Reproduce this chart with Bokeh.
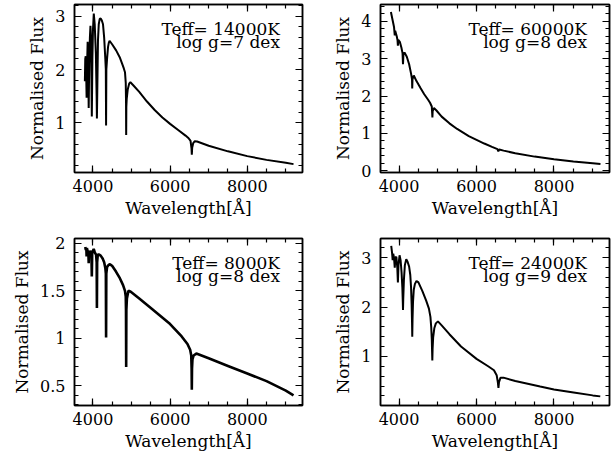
import numpy as np
from bokeh.plotting import figure
from bokeh.models import FixedTicker, LinearAxis, Range1d, Label
from bokeh.layouts import column, row
from bokeh.embed import file_html
from bokeh.resources import INLINE

# ---------------- data ----------------
wl_14000 = [3790, 3800, 3812, 3822, 3835, 3848, 3862, 3875, 3889, 3902, 3920, 3935, 3950,
            3970, 3985, 4000, 4021, 4045, 4075, 4095, 4102, 4112, 4130, 4150, 4175, 4200,
            4230, 4260, 4290, 4320, 4333, 4340, 4347, 4365, 4390, 4410, 4430, 4500, 4600,
            4700, 4760, 4800, 4830, 4850, 4857, 4861, 4865, 4875, 4900, 4940, 4970, 5050,
            5200, 5400, 5600, 5800, 6000, 6200, 6400, 6480, 6530, 6555, 6563, 6572, 6600,
            6640, 6700, 7000, 7500, 8000, 8500, 9000, 9200]
flux_14000 = [1.78, 2.20, 2.25, 2.00, 1.47, 2.10, 2.52, 2.20, 1.28, 2.10, 2.60, 2.82, 2.55,
              1.12, 2.20, 2.75, 3.05, 2.85, 2.30, 1.50, 1.08, 1.60, 2.55, 2.85, 2.95, 2.96,
              2.92, 2.85, 2.60, 2.20, 2.00, 0.95, 2.00, 2.20, 2.42, 2.50, 2.54, 2.47, 2.36,
              2.22, 2.10, 2.02, 1.95, 1.75, 1.40, 0.77, 1.30, 1.45, 1.62, 1.74, 1.76, 1.70,
              1.58, 1.40, 1.24, 1.10, 0.98, 0.87, 0.76, 0.71, 0.66, 0.52, 0.40, 0.53, 0.62,
              0.655, 0.65, 0.57, 0.465, 0.375, 0.305, 0.25, 0.225]

wl_60000 = [3790, 3830, 3870, 3889, 3900, 3940, 3960, 3970, 3980, 4020, 4060, 4090, 4102,
            4112, 4140, 4200, 4260, 4310, 4335, 4340, 4347, 4380, 4450, 4550, 4650, 4750,
            4800, 4845, 4855, 4861, 4868, 4900, 4960, 5100, 5300, 5500, 5800, 6000, 6200,
            6400, 6540, 6563, 6585, 6700, 7000, 7500, 8000, 8500, 9000, 9200]
flux_60000 = [4.25, 4.05, 3.85, 3.62, 3.75, 3.60, 3.50, 3.35, 3.50, 3.45, 3.30, 3.15, 2.85,
              3.10, 3.17, 3.05, 2.85, 2.60, 2.45, 2.20, 2.45, 2.55, 2.40, 2.22, 2.05, 1.90,
              1.82, 1.72, 1.55, 1.43, 1.60, 1.68, 1.62, 1.45, 1.27, 1.12, 0.93, 0.83, 0.73,
              0.64, 0.58, 0.52, 0.57, 0.54, 0.47, 0.38, 0.31, 0.25, 0.20, 0.18]

wl_8000 = [3800, 3815, 3828, 3835, 3842, 3860, 3880, 3889, 3898, 3915, 3940, 3960, 3970,
           3980, 4000, 4020, 4050, 4080, 4096, 4102, 4108, 4125, 4160, 4200, 4250, 4290,
           4320, 4334, 4340, 4346, 4365, 4400, 4440, 4500, 4600, 4700, 4780, 4830, 4850,
           4856, 4861, 4866, 4880, 4920, 4980, 5200, 5500, 6000, 6300, 6450, 6520, 6548,
           6558, 6563, 6568, 6580, 6610, 6680, 7000, 7500, 8000, 8500, 9000, 9200]
flux_8000 = [1.96, 1.93, 1.95, 1.86, 1.95, 1.92, 1.91, 1.79, 1.92, 1.90, 1.92, 1.88, 1.65,
             1.90, 1.92, 1.94, 1.90, 1.88, 1.80, 1.32, 1.80, 1.88, 1.88, 1.87, 1.84, 1.80,
             1.74, 1.68, 1.01, 1.68, 1.75, 1.77, 1.78, 1.76, 1.70, 1.63, 1.56, 1.50, 1.44,
             1.30, 0.70, 1.30, 1.42, 1.50, 1.49, 1.42, 1.32, 1.15, 1.02, 0.94, 0.88, 0.82,
             0.68, 0.46, 0.68, 0.78, 0.82, 0.84, 0.79, 0.71, 0.63, 0.55, 0.45, 0.40]

wl_24000 = [3798, 3820, 3835, 3850, 3870, 3889, 3905, 3930, 3955, 3970, 3985, 4013, 4040,
            4065, 4085, 4097, 4102, 4108, 4125, 4150, 4186, 4220, 4260, 4290, 4310, 4325,
            4335, 4341, 4348, 4360, 4380, 4410, 4450, 4500, 4600, 4700, 4771, 4810, 4830,
            4845, 4853, 4859, 4866, 4880, 4910, 4950, 5004, 5100, 5300, 5600, 6000, 6300,
            6450, 6520, 6550, 6566, 6580, 6620, 6695, 7000, 7643, 8000, 8506, 9000, 9195]
flux_24000 = [3.24, 3.10, 2.95, 3.08, 3.00, 2.80, 3.00, 3.02, 2.80, 2.50, 2.85, 3.05, 2.95,
              2.70, 2.40, 2.10, 1.94, 2.15, 2.55, 2.85, 2.97, 2.92, 2.82, 2.65, 2.40, 2.05,
              1.70, 1.40, 1.75, 2.10, 2.35, 2.47, 2.53, 2.50, 2.33, 2.13, 1.97, 1.80, 1.60,
              1.35, 1.10, 0.92, 1.15, 1.38, 1.57, 1.67, 1.71, 1.63, 1.45, 1.20, 0.95, 0.80,
              0.72, 0.62, 0.48, 0.36, 0.48, 0.57, 0.57, 0.50, 0.39, 0.33, 0.27, 0.21, 0.19]

teff_labels = ["Teff= 14000K", "Teff= 60000K", "Teff= 8000K", "Teff= 24000K"]
logg_labels = ["log g=7 dex", "log g=8 dex", "log g=8 dex", "log g=9 dex"]
x_major_ticks = [4000, 6000, 8000]
x_label = "Wavelength[Å]"
y_label = "Normalised Flux"

# ---------------- styling / layout ----------------
FONT = "DejaVu Serif"
X_RANGE = (3521, 9433)


def make_panel(wl, flux, y_range, y_major, y_minor, teff, logg, width, height,
               b_left, b_right, b_top, b_bottom, lw=2.0):
    p = figure(width=width, height=height, x_range=Range1d(*X_RANGE),
               y_range=Range1d(*y_range), output_backend="svg", toolbar_location=None,
               min_border_left=b_left, min_border_right=b_right,
               min_border_top=b_top, min_border_bottom=b_bottom,
               background_fill_color="white", border_fill_color="white")
    p.grid.visible = False
    p.outline_line_color = "black"
    p.outline_line_width = 1.5

    x_minor = list(np.arange(3500, 9501, 500))
    xt = FixedTicker(ticks=x_major_ticks, minor_ticks=x_minor)
    yt = FixedTicker(ticks=y_major, minor_ticks=y_minor)

    for ax in p.xaxis:
        ax.ticker = xt
    for ax in p.yaxis:
        ax.ticker = yt

    top_ax = LinearAxis(ticker=xt, major_label_overrides={t: "" for t in x_major_ticks})
    right_ax = LinearAxis(ticker=yt, major_label_overrides={t: "" for t in y_major})
    p.add_layout(top_ax, "above")
    p.add_layout(right_ax, "right")

    for ax in p.axis:
        ax.major_tick_in = 7
        ax.major_tick_out = 0
        ax.minor_tick_in = 4
        ax.minor_tick_out = 0
        ax.major_tick_line_color = "black"
        ax.minor_tick_line_color = "black"
        ax.major_tick_line_width = 1.2
        ax.minor_tick_line_width = 1.2
        ax.axis_line_color = "black"
        ax.axis_line_width = 1.5
        ax.major_label_text_font = FONT
        ax.major_label_text_color = "black"
        ax.axis_label_text_font = FONT
        ax.axis_label_text_font_style = "normal"
        ax.axis_label_text_color = "black"
        ax.axis_label_text_font_size = "17px"

    for ax in (top_ax, right_ax):
        ax.major_label_standoff = 0
        ax.major_label_text_font_size = "1px"

    p.below[0].axis_label = x_label
    p.below[0].major_label_text_font_size = "16px"
    p.below[0].major_label_standoff = 7
    p.below[0].axis_label_standoff = 3

    p.left[0].axis_label = y_label
    p.left[0].major_label_text_font_size = "16px"
    p.left[0].major_label_standoff = 9
    p.left[0].axis_label_standoff = 5

    p.line(wl, flux, line_color="black", line_width=lw)

    # annotation text, placed relative to the frame
    frame_w = width - b_left - b_right
    frame_h = height - b_top - b_bottom
    x0, x1 = X_RANGE
    y0, y1 = y_range
    tx = x1 - 22.5 / frame_w * (x1 - x0)
    ty1 = y1 - 24.3 / frame_h * (y1 - y0)
    ty2 = y1 - 37.7 / frame_h * (y1 - y0)
    for t, ty in ((teff, ty1), (logg, ty2)):
        p.add_layout(Label(x=tx, y=ty, text=t, text_align="right",
                           text_baseline="alphabetic", text_font=FONT,
                           text_font_size="17px", text_color="black"))
    return p


p1 = make_panel(wl_14000, flux_14000, (0.068, 3.22), [1, 2, 3],
                [round(v, 2) for v in np.arange(0.2, 3.21, 0.2)],
                teff_labels[0], logg_labels[0], 306, 226, 74, 4, 4, 54)
p2 = make_panel(wl_60000, flux_60000, (-0.045, 4.45), [0, 1, 2, 3, 4],
                [round(v, 2) for v in np.arange(0.0, 4.41, 0.2)],
                teff_labels[1], logg_labels[1], 310, 226, 74, 7, 4, 54)
p3 = make_panel(wl_8000, flux_8000, (0.294, 2.05), [0.5, 1, 1.5, 2],
                [round(v, 2) for v in np.arange(0.3, 2.01, 0.1)],
                teff_labels[2], logg_labels[2], 306, 227, 74, 4, 12, 48, lw=2.6)
p4 = make_panel(wl_24000, flux_24000, (0.005, 3.39), [1, 2, 3],
                [round(v, 2) for v in np.arange(0.2, 3.41, 0.2)],
                teff_labels[3], logg_labels[3], 310, 227, 74, 7, 12, 48)

layout = column(row(p1, p2, spacing=0), row(p3, p4, spacing=0), spacing=0)
open("out.html", "w").write(file_html(layout, INLINE))
